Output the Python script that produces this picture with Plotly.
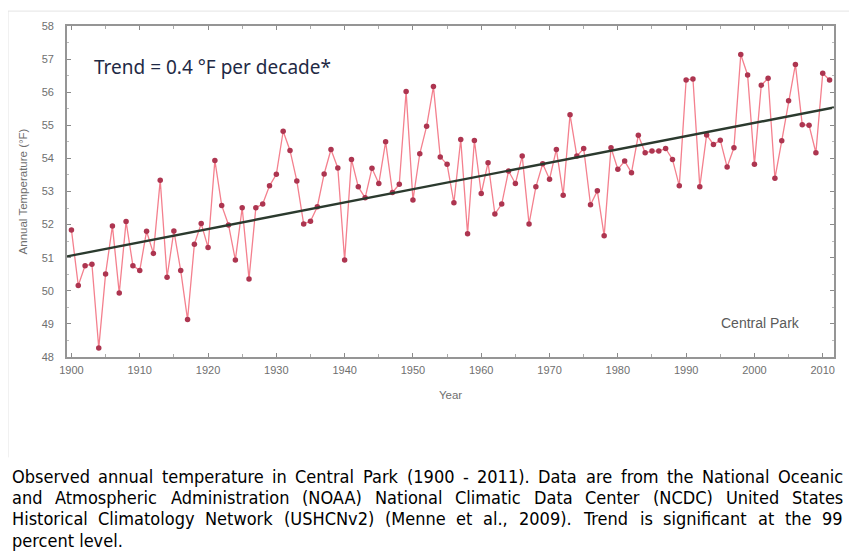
import plotly.graph_objects as go

years = list(range(1900, 2012))
temps = [
    51.84, 50.16, 50.76, 50.80, 48.27, 50.51, 51.96, 49.93, 52.09, 50.76,  # 1900s
    50.61, 51.80, 51.13, 53.34, 50.41, 51.81, 50.61, 49.13, 51.41, 52.03,  # 1910s
    51.31, 53.94, 52.58, 51.99, 50.93, 52.51, 50.36, 52.51, 52.62, 53.17,  # 1920s
    53.52, 54.82, 54.24, 53.32, 52.02, 52.10, 52.54, 53.53, 54.27, 53.71,  # 1930s
    50.93, 53.97, 53.14, 52.81, 53.70, 53.24, 54.50, 52.97, 53.22, 56.02,  # 1940s
    52.74, 54.14, 54.97, 56.17, 54.04, 53.82, 52.66, 54.57, 51.72, 54.54,  # 1950s
    52.94, 53.87, 52.32, 52.62, 53.62, 53.24, 54.07, 52.02, 53.14, 53.84,  # 1960s
    53.37, 54.27, 52.89, 55.32, 54.07, 54.30, 52.60, 53.02, 51.66, 54.32,  # 1970s
    53.67, 53.92, 53.57, 54.70, 54.17, 54.22, 54.22, 54.30, 53.97, 53.17,  # 1980s
    56.37, 56.40, 53.14, 54.71, 54.42, 54.55, 53.74, 54.32, 57.14, 56.52,  # 1990s
    53.82, 56.21, 56.42, 53.40, 54.53, 55.74, 56.84, 55.02, 55.00, 54.17,  # 2000s
    56.57, 56.37,                                                          # 2010s
]
trend_years = [1899.35, 2011.65]
trend_values = [51.04, 55.54]

x_ticks = list(range(1900, 2011, 10))
y_ticks = list(range(48, 59))

caption_lines = [
    "Observed annual temperature in Central Park (1900 - 2011). Data are from the National Oceanic",
    "and Atmospheric Administration (NOAA) National Climatic Data Center (NCDC) United States",
    "Historical Climatology Network (USHCNv2) (Menne et al., 2009). Trend is significant at the 99",
    "percent level.",
]

# ---- layout geometry (target pixel positions in the 857x559 window) ----
W, H = 857, 559
BODY = 8                       # default page margin around the plot div
L, R, T, B = 67, 23, 24, 202   # plot area edges in window pixels
pw, ph = W - L - R, H - T - B


def px(x):
    return (x - L) / pw


def py(y):
    return (H - B - y) / ph


# approximate glyph advances (DejaVu Sans, units per 2048 em) for justifying the caption
GLYPH = {" ": 651, "(": 799, ")": 799, ",": 651, "-": 739, ".": 651}
GLYPH.update({d: 1303 for d in "0123456789"})
GLYPH.update(dict(zip("ABCDEFGHIJKLMNOPQRSTUVWXYZ",
                      [1401, 1405, 1430, 1577, 1294, 1178, 1587, 1540, 604, 604, 1343, 1141, 1767,
                       1532, 1612, 1235, 1612, 1423, 1300, 1251, 1499, 1401, 2025, 1403, 1251, 1403])))
GLYPH.update(dict(zip("abcdefghijklmnopqrstuvwxyz",
                      [1255, 1300, 1126, 1300, 1260, 721, 1300, 1298, 569, 569, 1186, 569, 1995,
                       1298, 1253, 1300, 1300, 842, 1067, 803, 1298, 1212, 1675, 1212, 1212, 1075])))


def units(s):
    return sum(GLYPH.get(c, 1200) for c in s)


CAP_SIZE = 18
scale = (653.0 * CAP_SIZE / 15.0) / units(caption_lines[0])
CAP_LEFT, CAP_RIGHT = 12, 843
CAP_TOP, CAP_STEP = 477, 21.4
CAP_FONT = dict(family="DejaVu Sans Condensed", size=CAP_SIZE, color="#000000")

fig = go.Figure()
fig.add_trace(go.Scatter(
    x=years, y=temps, mode="lines+markers",
    line=dict(color="#f4808e", width=1.3),
    marker=dict(color="#ad3550", size=5.5),
    showlegend=False, hoverinfo="x+y",
))
fig.add_trace(go.Scatter(
    x=trend_years, y=trend_values, mode="lines",
    line=dict(color="#2b3a2e", width=2.4),
    showlegend=False,
))

tick_font = dict(family="Liberation Sans", size=11, color="#6f6f6f")
axis_common = dict(
    showline=True, linecolor="#959595", linewidth=1.6, mirror="ticks",
    ticks="inside", ticklen=4, tickcolor="#8a8a8a", tickwidth=1,
    showgrid=False, zeroline=False, tickfont=tick_font,
)

fig.update_xaxes(
    range=[trend_years[0], trend_years[1]], tickvals=x_ticks, ticklabelstandoff=2,
    minor=dict(dtick=5, ticks="inside", ticklen=3, tickcolor="#aaaaaa"),
    title=dict(text="Year", font=dict(family="Liberation Sans", size=11.5, color="#6f6f6f"), standoff=16),
    **axis_common,
)
fig.update_yaxes(
    range=[48, 58], tickvals=y_ticks, ticklabelstandoff=9,
    minor=dict(dtick=0.5, ticks="inside", ticklen=2, tickcolor="#bbbbbb"),
    title=dict(text="Annual Temperature (°F)", font=dict(family="Liberation Sans", size=11.5, color="#6f6f6f"), standoff=12),
    **axis_common,
)

annotations = [
    dict(text="Trend = 0.4 °F per decade*", x=px(92), y=py(65), xref="paper", yref="paper",
         xanchor="left", yanchor="middle", showarrow=False,
         font=dict(family="Noto Sans", size=19, color="#1f2a45")),
    dict(text="Central Park", x=px(719), y=py(323), xref="paper", yref="paper",
         xanchor="left", yanchor="middle", showarrow=False,
         font=dict(family="Liberation Sans", size=14, color="#5a5a5a")),
]

# caption: justified lines (word by word), last line left-aligned
for i, line in enumerate(caption_lines):
    yc = py(CAP_TOP + CAP_STEP * i)
    if i == len(caption_lines) - 1:
        annotations.append(dict(text=line, x=px(CAP_LEFT - 2), y=yc, xref="paper", yref="paper",
                                xanchor="left", yanchor="middle", showarrow=False, font=CAP_FONT))
        continue
    words = line.split(" ")
    widths = [units(w) * scale for w in words]
    gap = (CAP_RIGHT - CAP_LEFT - sum(widths)) / (len(words) - 1)
    cur = CAP_LEFT
    for w, wd in zip(words, widths):
        annotations.append(dict(text=w, x=px(cur + wd / 2), y=yc, xref="paper", yref="paper",
                                xanchor="center", yanchor="middle", showarrow=False, font=CAP_FONT))
        cur += wd + gap

shapes = [
    dict(type="line", xref="paper", yref="paper", x0=px(8), x1=px(857), y0=py(9), y1=py(9),
         line=dict(color="#e4e4e4", width=1)),
    dict(type="line", xref="paper", yref="paper", x0=px(8), x1=px(8), y0=py(9), y1=py(458),
         line=dict(color="#e4e4e4", width=1)),
]

fig.update_layout(
    width=W - BODY, height=H - BODY,
    margin=dict(l=L - BODY, r=R, t=T - BODY, b=B),
    paper_bgcolor="white", plot_bgcolor="white",
    annotations=annotations, shapes=shapes,
    showlegend=False,
)

fig.write_html("out.html")
